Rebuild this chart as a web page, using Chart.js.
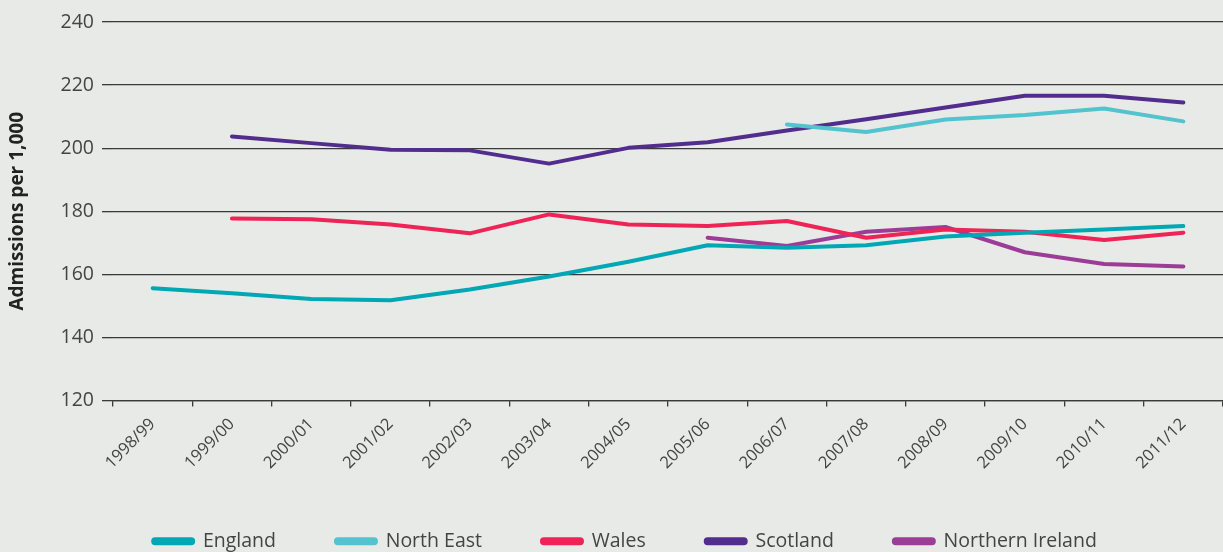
<!DOCTYPE html>
<html>
<head>
<meta charset="utf-8">
<script src="https://cdn.jsdelivr.net/npm/chart.js@4"></script>
<style>
    html, body { margin: 0; padding: 0; background: #e8eae7; }
    #wrap { width: 1223px; height: 552px; }
</style>
</head>
<body>
<div id="wrap"><canvas id="admissionsChart"></canvas></div>
<script>
// Số liệu
const years = ['1998/99', '1999/00', '2000/01', '2001/02', '2002/03', '2003/04', '2004/05',
    '2005/06', '2006/07', '2007/08', '2008/09', '2009/10', '2010/11', '2011/12'];
const england = [155.6, 154.0, 152.2, 151.8, 155.2, 159.3, 164.0, 169.2, 168.4, 169.2, 172.0, 173.2, 174.2, 175.3];
const northEast = [null, null, null, null, null, null, null, null, 207.5, 205.1, 209.1, 210.5, 212.6, 208.5];
const wales = [null, 177.7, 177.5, 175.8, 173.0, 179.0, 175.8, 175.3, 176.9, 171.6, 174.2, 173.5, 170.9, 173.2];
const scotland = [null, 203.7, 201.6, 199.5, 199.3, 195.1, 200.1, 201.9, 205.6, 209.2, 212.9, 216.6, 216.6, 214.5];
const northernIreland = [null, null, null, null, null, null, null, 171.6, 169.0, 173.5, 175.0, 167.0, 163.3, 162.5];
const yTicks = [120, 140, 160, 180, 200, 220, 240];

const FONT = '"Open Sans", "DejaVu Sans", sans-serif';
const TEXT = '#444';
const GRID = '#3a3a3a';

const series = [
    {label: 'England', data: england, color: '#00a7b5'},
    {label: 'North East', data: northEast, color: '#52c3cf'},
    {label: 'Wales', data: wales, color: '#ee2356'},
    {label: 'Scotland', data: scotland, color: '#532d8e'},
    {label: 'Northern Ireland', data: northernIreland, color: '#9b3d97'}
];

const ctx = document.getElementById('admissionsChart');
if (ctx) {
    new Chart(ctx, {
        type: 'line',
        data: {
            labels: years,
            datasets: series.map(s => ({
                label: s.label,
                data: s.data,
                borderColor: s.color,
                backgroundColor: s.color,
                borderWidth: 4,
                borderCapStyle: 'round',
                borderJoinStyle: 'round',
                pointRadius: 0,
                tension: 0,
                spanGaps: false
            }))
        },
        options: {
            responsive: true,
            maintainAspectRatio: false,
            animation: false,
            // lề trái 27 để chú thích lệch sang phải như bản gốc
            layout: {padding: {top: 22, right: 0, bottom: -9, left: 27}},
            scales: {
                x: {
                    offset: true,
                    grid: {offset: true, drawOnChartArea: false, drawTicks: true, tickLength: 6, color: GRID, lineWidth: 1.3},
                    border: {display: true, color: GRID, width: 1.3},
                    ticks: {
                        color: TEXT, font: {family: FONT, size: 16.5}, padding: 8,
                        minRotation: 45, maxRotation: 45, autoSkip: false
                    },
                    afterFit: scale => { scale.height = 71; }
                },
                y: {
                    min: 120, max: 240,
                    afterBuildTicks: scale => { scale.ticks = yTicks.map(v => ({value: v})); },
                    grid: {color: GRID, lineWidth: 1.3, drawTicks: true, tickLength: 11},
                    border: {display: false},
                    ticks: {color: TEXT, font: {family: FONT, size: 19.5}, padding: 8},
                    title: {
                        display: true, text: 'Admissions per 1,000', color: '#222',
                        font: {family: FONT, size: 19, weight: 'bold'}, padding: {top: -21, bottom: 0}
                    },
                    afterFit: scale => { scale.width = 86; }
                }
            },
            plugins: {
                legend: {
                    display: true,
                    position: 'bottom',
                    labels: {
                        color: TEXT,
                        font: {family: FONT, size: 19.5},
                        boxWidth: 40,
                        boxHeight: 4,
                        padding: 60,
                        useBorderRadius: true,
                        borderRadius: 2
                    }
                },
                tooltip: {enabled: false}
            }
        }
    });
}
</script>
</body>
</html>
